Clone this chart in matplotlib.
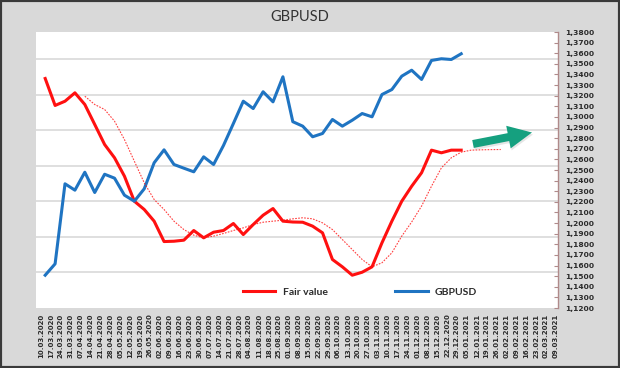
import matplotlib
matplotlib.use("Agg")
import matplotlib.pyplot as plt
import pandas as pd
from matplotlib.patches import FancyArrow, Rectangle
from matplotlib.ticker import FuncFormatter, MultipleLocator
from matplotlib.transforms import IdentityTransform

plt.rcParams["font.family"] = ["Lato", "DejaVu Sans"]

# axis labels are weekly (Tuesdays), observations are weekly (Fridays)
label_dates = pd.date_range("2020-03-10", "2021-03-09", freq="7D")
first_obs = "2020-03-13"

gbpusd = [1.1509, 1.1616, 1.2370, 1.2310, 1.2479, 1.2288, 1.2460, 1.2423,
          1.2263, 1.2206, 1.2323, 1.2568, 1.2690, 1.2552, 1.2517, 1.2483,
          1.2624, 1.2552, 1.2731, 1.2938, 1.3148, 1.3079, 1.3237, 1.3142,
          1.3378, 1.2955, 1.2913, 1.2813, 1.2844, 1.2976, 1.2913, 1.2969,
          1.3032, 1.3001, 1.3211, 1.3258, 1.3384, 1.3440, 1.3353, 1.3532,
          1.3548, 1.3541, 1.3595]

fair_value = [1.3362, 1.3108, 1.3148, 1.3227, 1.3117, 1.2929, 1.2740, 1.2615,
              1.2442, 1.2206, 1.2128, 1.2018, 1.1826, 1.1829, 1.1839, 1.1930,
              1.1861, 1.1914, 1.1930, 1.1996, 1.1892, 1.1986, 1.2074, 1.2137,
              1.2018, 1.2010, 1.2008, 1.1971, 1.1908, 1.1657, 1.1588, 1.1509,
              1.1537, 1.1588, 1.1814, 1.2018, 1.2206, 1.2347, 1.2474, 1.2687,
              1.2662, 1.2687, 1.2687]

# smoothed fair value, starts at the 5th week
ma_offset = 4
fair_value_ma = [1.3195, 1.3117, 1.3070, 1.2960, 1.2787, 1.2583, 1.2379, 1.2222,
                 1.2128, 1.2018, 1.1939, 1.1886, 1.1861, 1.1877, 1.1902, 1.1930,
                 1.1955, 1.1986, 1.2008, 1.2018, 1.2027, 1.2040, 1.2050, 1.2040,
                 1.2002, 1.1939, 1.1845, 1.1751, 1.1657, 1.1588, 1.1626, 1.1720,
                 1.1877, 1.2010, 1.2160, 1.2347, 1.2520, 1.2615, 1.2668, 1.2687,
                 1.2690, 1.2692, 1.2693]

obs_dates = pd.date_range(first_obs, periods=ma_offset + len(fair_value_ma), freq="7D")

RED = "#ff1010"
BLUE = "#1f74c2"
TXT = "#2b2b2b"

fig = plt.figure(figsize=(6.2, 3.68), dpi=100, facecolor="#d9d9d9")
ax = fig.add_axes([36 / 620, 60 / 368, 522 / 620, 276 / 368])
ax.set_facecolor("white")
ax2 = ax.twinx()

# gridlines belong to the (hidden) primary axis
ax.set_ylim(0, 7.76)
ax.set_yticks(range(1, 8))
ax.grid(axis="y", color="#d9d9d9", lw=1.2)
ax.tick_params(axis="y", left=False, right=False, labelleft=False)
for s in ax.spines.values():
    s.set_visible(False)

ax2.plot(obs_dates[:len(fair_value)], fair_value, color=RED, lw=2.2, solid_joinstyle="round")
ax2.plot(obs_dates[:len(gbpusd)], gbpusd, color=BLUE, lw=2.2, solid_joinstyle="round")
ax2.plot(obs_dates[ma_offset:ma_offset + len(fair_value_ma)], fair_value_ma,
         color=RED, lw=0.8, ls=(0, (1.5, 1.2)), alpha=0.8)

ax2.set_ylim(1.12, 1.38)
ax2.yaxis.set_major_locator(MultipleLocator(0.01))
ax2.yaxis.set_major_formatter(FuncFormatter(lambda v, _: f"{v:.4f}".replace(".", ",")))
ax2.tick_params(axis="y", direction="in", length=3, width=0.8, color="#b08a8a",
                labelsize=5.4, pad=5, labelcolor=TXT)
for lab in ax2.get_yticklabels():
    lab.set_fontfamily("DejaVu Sans")
    lab.set_fontweight("bold")
for side in ["top", "left", "bottom"]:
    ax2.spines[side].set_visible(False)
ax2.spines["right"].set_color("#b08a8a")
ax2.spines["right"].set_linewidth(1)

ax.set_xlim(pd.Timestamp("2020-03-06 12:00"), pd.Timestamp("2021-03-10 10:00"))
ax.set_xticks(label_dates)
ax.set_xticklabels([d.strftime("%d.%m.%Y") for d in label_dates], rotation=90,
                   fontsize=5, fontweight="bold", family="DejaVu Sans", color=TXT)
ax.tick_params(axis="x", length=0, pad=4)

fig.text(300 / 620, 1 - 17 / 368, "GBPUSD", ha="center", va="center",
         fontsize=10.5, color="#333333")

leg_red, = ax2.plot([], [], color=RED, lw=2.2)
leg_blue, = ax2.plot([], [], color=BLUE, lw=2.2)
fig.legend([leg_red, leg_blue], ["Fair value", "GBPUSD"], loc="center",
           bbox_to_anchor=(360 / 620, 1 - 292 / 368), ncol=2, frameon=False,
           prop=dict(family="Lato", weight="bold", size=7.5), labelcolor=TXT,
           handlelength=3.1, handletextpad=0.7, columnspacing=6.5)

# green arrow (pixel coordinates), with a soft shadow
shadow = FancyArrow(474, 222, 59, 11.5, width=8, head_width=23, head_length=24,
                    length_includes_head=True, color="#999999", alpha=0.25,
                    lw=0, transform=IdentityTransform())
arrow = FancyArrow(473, 224, 59, 11.5, width=8, head_width=23, head_length=24,
                   length_includes_head=True, color="#15a07f", lw=0,
                   transform=IdentityTransform())
fig.add_artist(shadow)
fig.add_artist(arrow)

fig.add_artist(Rectangle((0, 0), 1, 1, transform=fig.transFigure, fill=False,
                         edgecolor="#3a3a3a", lw=3))

fig.savefig("out.png", dpi=100, facecolor=fig.get_facecolor())
